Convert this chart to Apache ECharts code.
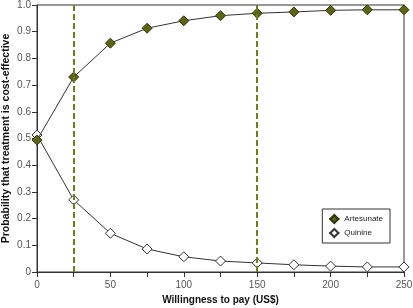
<!DOCTYPE html>
<html>
<head>
<meta charset="utf-8">
<script src="https://cdn.jsdelivr.net/npm/echarts@6/dist/echarts.min.js"></script>
<style>
  html, body { margin: 0; padding: 0; background: #fff; }
  #chart { width: 413px; height: 308px; }
</style>
</head>
<body>
<div id="chart"></div>
<script>
// willingness to pay, US$
const wtp = [0, 25, 50, 75, 100, 125, 150, 175, 200, 225, 250]
const artesunate = [0.494, 0.73, 0.857, 0.913, 0.941, 0.96, 0.969, 0.974, 0.98, 0.982, 0.982]
const quinine = [0.513, 0.27, 0.145, 0.086, 0.057, 0.041, 0.034, 0.027, 0.022, 0.019, 0.019]
const thresholds = [25, 150]

const font = '"Liberation Sans", Arial, sans-serif'
const pair = (xs, ys) => xs.map((x, i) => [x, ys[i]])

const chart = echarts.init(document.getElementById('chart'))
chart.setOption({
  animation: false,
  textStyle: { fontFamily: font },
  grid: {
    left: 37, right: 9, top: 5, bottom: 36,
    outerBoundsMode: 'none',
    containLabel: false,
    show: true, borderColor: '#333', borderWidth: 1
  },
  legend: {
    orient: 'vertical',
    right: 23, top: 209,
    padding: [5, 7, 5, 6],
    itemGap: 4,
    itemWidth: 10, itemHeight: 10,
    borderColor: '#333', borderWidth: 1,
    backgroundColor: '#fff',
    textStyle: { fontSize: 8, color: '#222', fontFamily: font },
    data: ['Artesunate', 'Quinine']
  },
  xAxis: {
    type: 'value',
    min: 0, max: 250, interval: 25,
    name: 'Willingness to pay (US$)',
    nameLocation: 'middle',
    nameGap: 23,
    nameTextStyle: { fontWeight: 'bold', fontSize: 10, color: '#111', fontFamily: font },
    axisLine: { lineStyle: { color: '#333' } },
    axisTick: { length: 5, lineStyle: { color: '#333' } },
    axisLabel: {
      fontSize: 10, color: '#555', margin: 8,
      formatter: v => (v % 50 === 0 ? String(v) : '')
    },
    splitLine: { show: false }
  },
  yAxis: {
    type: 'value',
    min: 0, max: 1, interval: 0.1,
    name: 'Probability that treatment is cost-effective',
    nameLocation: 'middle',
    nameGap: 25,
    nameMoveOverlap: false,
    nameTextStyle: { fontWeight: 'bold', fontSize: 10.5, color: '#111', fontFamily: font },
    axisLine: { show: true, lineStyle: { color: '#333' } },
    axisTick: { show: true, length: 5, lineStyle: { color: '#333' } },
    axisLabel: {
      fontSize: 10, color: '#555', margin: 6,
      formatter: v => (v === 0 ? '0' : v.toFixed(1))
    },
    splitLine: { show: false }
  },
  series: [
    {
      name: 'Quinine',
      type: 'line',
      data: pair(wtp, quinine),
      symbol: 'diamond',
      symbolSize: 10,
      lineStyle: { color: '#333', width: 1 },
      itemStyle: { color: '#fff', borderColor: '#333', borderWidth: 1 },
      z: 3
    },
    {
      name: 'Artesunate',
      type: 'line',
      data: pair(wtp, artesunate),
      symbol: 'diamond',
      symbolSize: 10,
      lineStyle: { color: '#333', width: 1 },
      itemStyle: { color: '#5c6514', borderColor: '#2e330a', borderWidth: 1 },
      markLine: {
        silent: true,
        symbol: 'none',
        label: { show: false },
        lineStyle: { color: '#6e7d22', width: 2, type: [6, 3] },
        data: thresholds.map(x => ({ xAxis: x }))
      },
      z: 4
    }
  ]
})
</script>
</body>
</html>
